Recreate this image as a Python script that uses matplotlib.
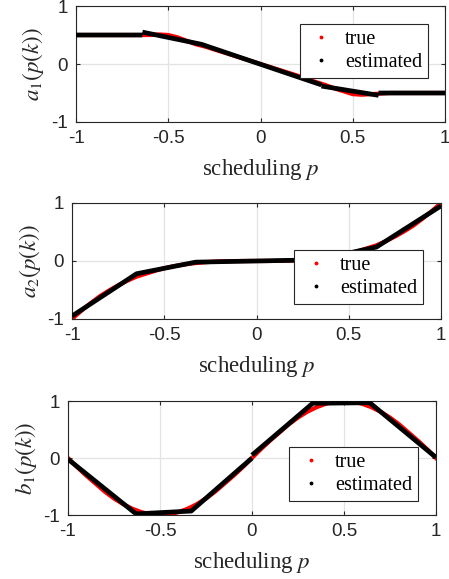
import numpy as np
import matplotlib
matplotlib.use('Agg')
import matplotlib.pyplot as plt
from matplotlib.lines import Line2D

plt.rcParams['axes.unicode_minus'] = False
plt.rcParams['mathtext.fontset'] = 'stix'

# scheduling grid for the "true" curves
p_true = [-1.00, -0.95, -0.90, -0.85, -0.80, -0.75, -0.70, -0.65, -0.60, -0.55,
          -0.50, -0.45, -0.40, -0.35, -0.30, -0.25, -0.20, -0.15, -0.10, -0.05,
          0.00, 0.05, 0.10, 0.15, 0.20, 0.25, 0.30, 0.35, 0.40, 0.45,
          0.50, 0.55, 0.60, 0.65, 0.70, 0.75, 0.80, 0.85, 0.90, 0.95, 1.00]

a1_true = [0.50, 0.50, 0.50, 0.50, 0.50, 0.50, 0.50, 0.50, 0.50, 0.51,
           0.50, 0.46, 0.40, 0.34, 0.30, 0.25, 0.20, 0.15, 0.10, 0.05,
           0.00, -0.05, -0.10, -0.15, -0.20, -0.26, -0.31, -0.36, -0.42, -0.47,
           -0.52, -0.53, -0.52, -0.51, -0.50, -0.50, -0.50, -0.50, -0.50, -0.50, -0.50]

a2_true = [-1.00, -0.86, -0.73, -0.61, -0.51, -0.42, -0.34, -0.27, -0.22, -0.17,
           -0.125, -0.09, -0.064, -0.043, -0.027, -0.016, -0.008, -0.003, -0.001, 0.0,
           0.0, 0.0, 0.001, 0.003, 0.008, 0.016, 0.027, 0.043, 0.064, 0.09,
           0.125, 0.17, 0.22, 0.27, 0.34, 0.42, 0.51, 0.61, 0.73, 0.86, 1.00]

b1_true = [0.00, -0.16, -0.31, -0.45, -0.59, -0.71, -0.81, -0.89, -0.95, -0.99,
           -1.00, -0.99, -0.95, -0.89, -0.81, -0.71, -0.59, -0.45, -0.31, -0.16,
           0.00, 0.16, 0.31, 0.45, 0.59, 0.71, 0.81, 0.89, 0.95, 0.99,
           1.00, 0.99, 0.95, 0.89, 0.81, 0.71, 0.59, 0.45, 0.31, 0.16, 0.00]

# estimated piecewise-linear curves (nan splits the pieces)
nan = np.nan
a1_est_p = [-1.00, -0.64, nan, -0.64, -0.32, 0.33, nan, 0.33, 0.64, nan, 0.64, 1.00]
a1_est = [0.50, 0.50, nan, 0.55, 0.34, -0.36, nan, -0.38, -0.54, nan, -0.50, -0.50]

a2_est_p = [-1.00, -0.65, -0.33, 0.33, 0.65, 1.00]
a2_est = [-0.95, -0.22, -0.02, 0.02, 0.24, 0.95]

b1_est_p = [-1.00, -0.63, -0.33, 0.00, nan, 0.00, 0.33, 0.64, 1.00]
b1_est = [-0.02, -0.98, -0.93, 0.00, nan, 0.05, 0.96, 0.97, 0.01]

ylabels = [r'$a_1(p(k))$', r'$a_2(p(k))$', r'$b_1(p(k))$']
true_sets = [a1_true, a2_true, b1_true]
est_sets = [(a1_est_p, a1_est), (a2_est_p, a2_est), (b1_est_p, b1_est)]

# axes rectangles [left, bottom, width, height] and legend anchors
rects = [[0.1693, 0.7893, 0.8218, 0.2003],
         [0.1604, 0.4491, 0.8218, 0.2003],
         [0.1514, 0.1105, 0.8196, 0.1969]]
leg_anchor = [(0.954, 0.845), (0.951, 0.595), (0.951, 0.596)]

dark = '#262626'
fig = plt.figure(figsize=(4.49, 5.79), dpi=100)

for i in range(3):
    ax = fig.add_axes(rects[i])
    ax.plot(p_true, true_sets[i], '-', color='red', lw=3.0, zorder=2)
    ax.plot(est_sets[i][0], est_sets[i][1], '-', color='black', lw=3.4,
            solid_capstyle='butt', zorder=3)

    ax.set_xlim(-1, 1)
    ax.set_ylim(-1, 1)
    ax.set_xticks([-1, -0.5, 0, 0.5, 1])
    ax.set_xticklabels(['-1', '-0.5', '0', '0.5', '1'])
    ax.set_yticks([-1, 0, 1])
    ax.set_yticklabels(['-1', '0', '1'])
    ax.grid(True, color='#e3e3e3', lw=0.9)
    ax.set_axisbelow(True)
    ax.tick_params(direction='in', length=3, width=0.8, top=True, right=True,
                   colors=dark, labelsize=13.5, pad=6)
    for lab in ax.get_xticklabels() + ax.get_yticklabels():
        lab.set_family('Liberation Sans')
    for s in ax.spines.values():
        s.set_color(dark)
        s.set_linewidth(0.8)

    ax.set_xlabel(r'scheduling $p$', family='Liberation Serif', fontsize=16.5,
                  color=dark, labelpad=7)
    ax.set_ylabel(ylabels[i], fontsize=16.5, color=dark)
    ax.yaxis.set_label_coords(-0.08, 0.5)

    handles = [Line2D([], [], marker='.', ls='none', color='red', markersize=3.5),
               Line2D([], [], marker='.', ls='none', color='black', markersize=3.5)]
    leg = ax.legend(handles, ['true', 'estimated'], loc='upper right',
                    bbox_to_anchor=leg_anchor[i], frameon=True, fancybox=False,
                    framealpha=1, edgecolor=dark, handlelength=1.5,
                    handletextpad=0.45, borderpad=0.3, labelspacing=0.2,
                    borderaxespad=0, prop={'family': 'Liberation Serif', 'size': 14.5})
    leg.get_frame().set_linewidth(0.8)
    leg.set_zorder(5)

fig.savefig('out.png', dpi=100)
